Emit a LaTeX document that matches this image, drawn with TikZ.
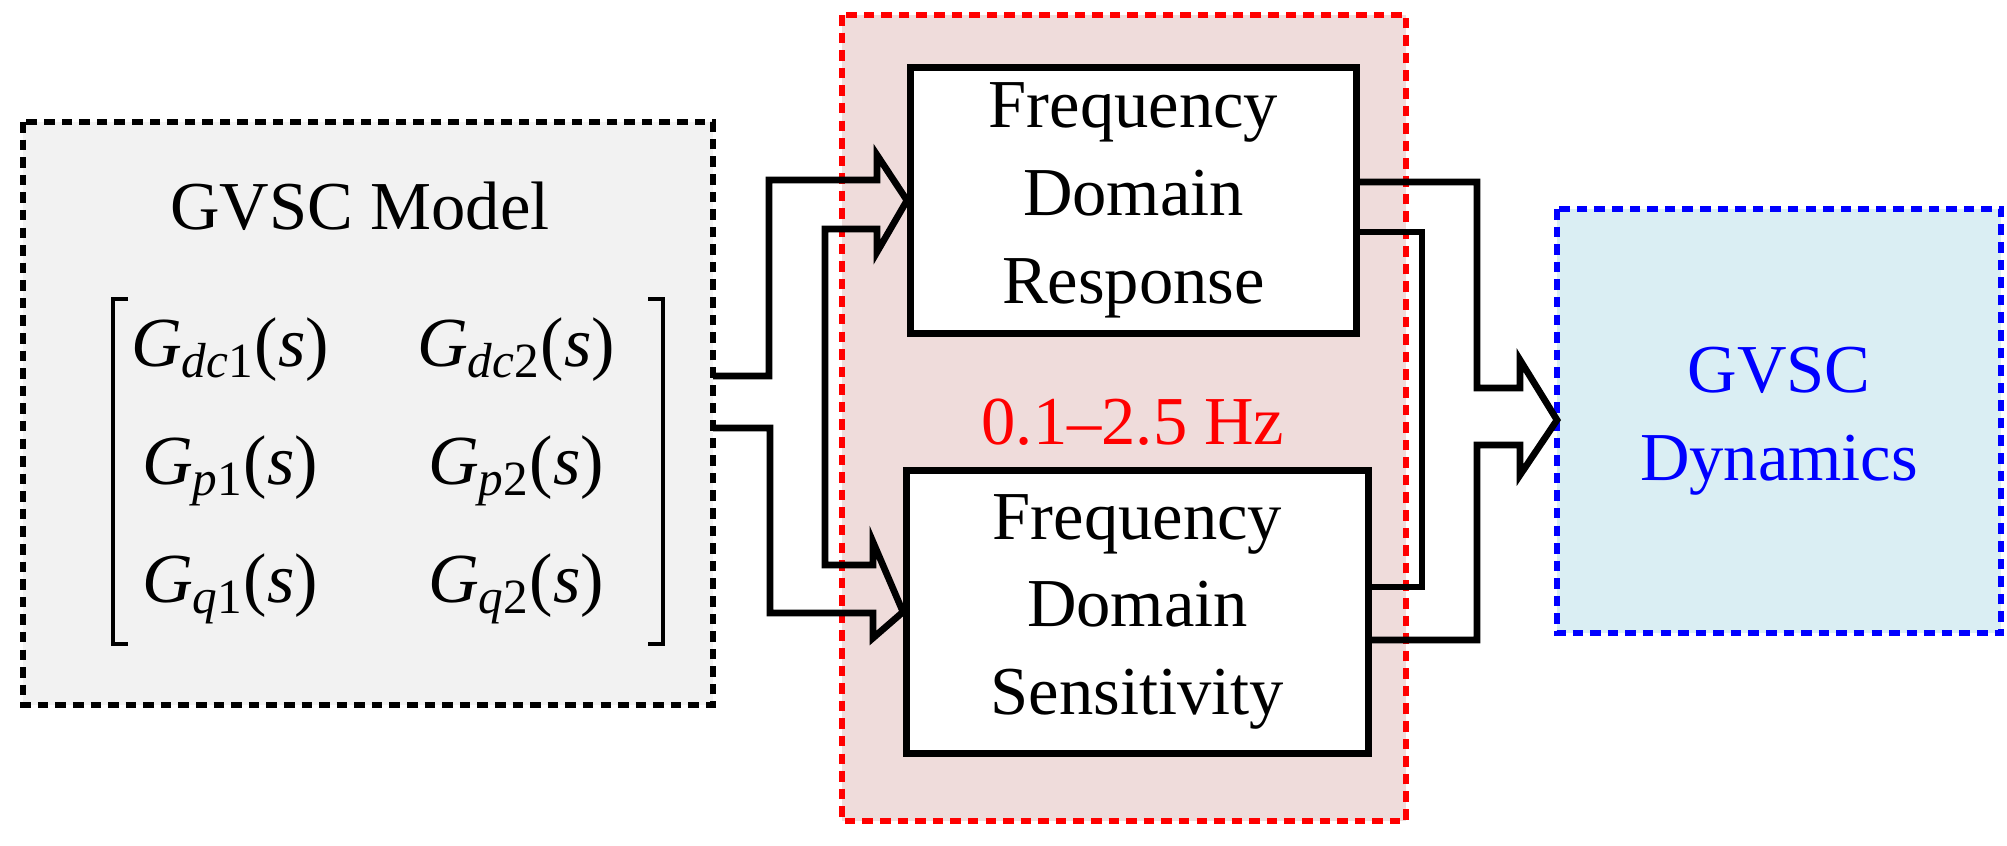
\documentclass[tikz,border=0pt]{standalone}
\usepackage{fontspec}
\setmainfont{Liberation Serif}
\definecolor{pinkfill}{HTML}{EFDCDB}
\definecolor{grayfill}{HTML}{F2F2F2}
\definecolor{bluefill}{HTML}{DAEEF3}
\begin{document}
\begin{tikzpicture}[x=0.01cm,y=-0.01cm,
  dbox/.style={line width=1.8pt,dash pattern=on 3pt off 2pt},
  wbox/.style={draw,line width=1.9pt,fill=white,inner sep=0pt},
  harrow/.style={line width=1.9pt,line join=miter,fill=none},
  txt/.style={font=\fontsize{19.5}{25}\selectfont,align=center}]
\useasboundingbox (0,0) rectangle (2007,845);
\fill[grayfill] (23,122) rectangle (713,705);
\draw[dbox] (23,122) rectangle (713,705);
\fill[pinkfill] (842,15) rectangle (1406,821);
\draw[dbox,red] (842,15) rectangle (1406,821);
\fill[bluefill] (1557,209) rectangle (2001,633);
\draw[dbox,blue] (1557,209) rectangle (2001,633);
\node[wbox,minimum width=4.46cm,minimum height=2.66cm,anchor=north west] (fr) at (907,64) {};
\node[wbox,minimum width=4.62cm,minimum height=2.83cm,anchor=north west] (fs) at (903,467) {};
\node[txt] (frt) at (fr.center) {Frequency\\Domain\\Response};
\node[txt] (fst) at (fs.center) {Frequency\\Domain\\Sensitivity};
\node[txt] (mt) at (360,206) {GVSC Model};
\node[txt,red] (hz) at (1133,422) {0.1–2.5 Hz};
\node[txt,blue] (dyn) at (1779,421) {GVSC\\Dynamics};
\begin{scope}[font=\fontsize{20}{25}\selectfont]
\node (m11) at (230,350) {\textit{G}\textsubscript{\textit{dc}1}(\textit{s})};
\node (m12) at (516,350) {\textit{G}\textsubscript{\textit{dc}2}(\textit{s})};
\node (m21) at (230,471) {\textit{G}\textsubscript{\textit{p}1}(\textit{s})};
\node (m22) at (516,471) {\textit{G}\textsubscript{\textit{p}2}(\textit{s})};
\node (m31) at (230,589) {\textit{G}\textsubscript{\textit{q}1}(\textit{s})};
\node (m32) at (516,589) {\textit{G}\textsubscript{\textit{q}2}(\textit{s})};
\end{scope}
\draw[line width=1pt] (128,299) -- (113,299) -- (113,644) -- (128,644);
\draw[line width=1pt] (648,299) -- (663,299) -- (663,644) -- (648,644);
\draw[harrow] (713,376) -- (769,376) -- (769,180) -- (877,180) -- (877,155) -- (fr.west)
  -- (877,252) -- (877,229) -- (825,229) -- (825,565) -- (873,565) -- (873,542) -- (fs.west)
  -- (873,638) -- (873,613) -- (770,613) -- (770,428) -- (713,428);
\draw[harrow] (1353,182) -- (1477,182) -- (1477,388) -- (1520,388) -- (1520,360) -- (1557,420)
  -- (1520,475) -- (1520,445) -- (1477,445) -- (1477,640) -- (1365,640);
\draw[harrow] (1353,232) -- (1422,232) -- (1422,587) -- (1365,587);
\end{tikzpicture}
\end{document}
